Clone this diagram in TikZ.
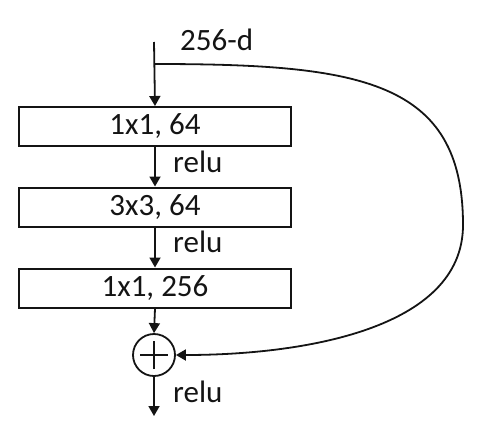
\documentclass[tikz,border=0pt]{standalone}
\usepackage{fontspec}
\setmainfont{Carlito}
\usetikzlibrary{arrows.meta}
\definecolor{ink}{HTML}{141414}
\begin{document}
\begin{tikzpicture}[x=1pt,y=-1pt,
  every node/.style={font=\fontsize{31}{31}\selectfont, text=ink},
  layerbox/.style={draw=ink, line width=2pt, minimum width=272pt, minimum height=39pt, inner sep=0pt},
  lbl/.style={anchor=base west, inner sep=0pt},
  conn/.style={draw=ink, line width=1.8pt, -{Triangle[length=10pt,width=11pt]}},
  sumnode/.style={draw=ink, line width=1.8pt, circle, minimum size=42pt, inner sep=0pt}]
\useasboundingbox (0,0) rectangle (478,434);
\coordinate (top) at (154,42);
\coordinate (split) at (154,64);
\coordinate (out) at (154,416);
\coordinate (far) at (463,225);
\node[layerbox] (b1) at (155,126.5) {1x1, 64};
\node[layerbox] (b2) at (155,207) {3x3, 64};
\node[layerbox] (b3) at (155,288) {1x1, 256};
\node[sumnode] (sum) at (154,355) {};
\draw[draw=ink, line width=1.8pt] ([xshift=-14pt]sum.center) -- ([xshift=14pt]sum.center)
  ([yshift=-14pt]sum.center) -- ([yshift=14pt]sum.center);
\node[lbl] (dim) at (180,50) {256-d};
\node[lbl] (r1) at (173,172) {relu};
\node[lbl] (r2) at (173,252) {relu};
\node[lbl] (r3) at (173,402) {relu};
\draw[conn] (top) -- (b1.north);
\draw[conn] (b1.south) -- (b2.north);
\draw[conn] (b2.south) -- (b3.north);
\draw[conn] (b3.south) -- (sum.north);
\draw[conn] (sum.south) -- (out);
\draw[conn] (split) .. controls (360,64) and (463,80) .. (far)
  .. controls (463,330) and (300,355) .. (sum.east);
\end{tikzpicture}
\end{document}
